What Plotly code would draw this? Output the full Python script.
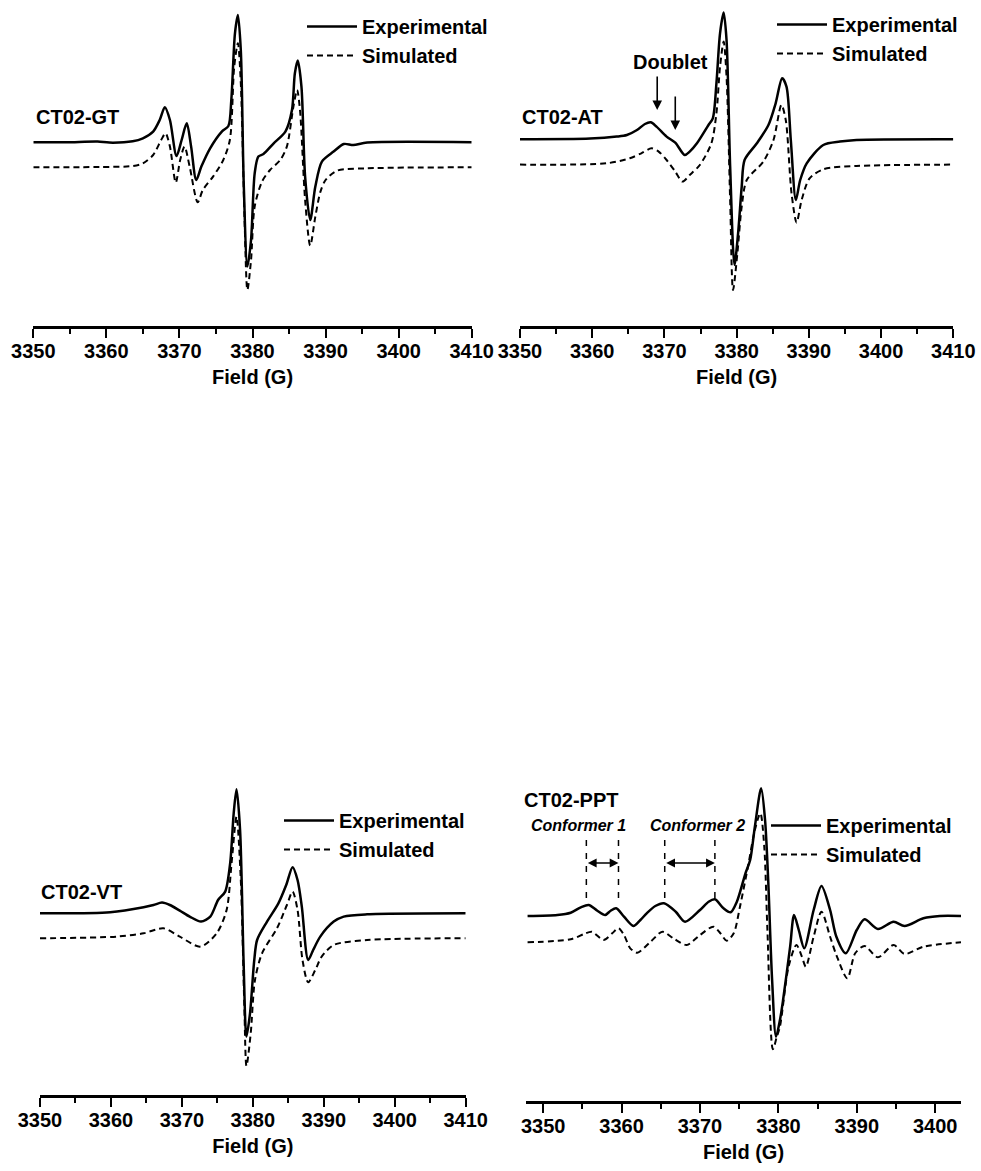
import plotly.graph_objects as go

# ---------------- data (field in G, signal in arbitrary units) ----------------
gt_exp_x = [3350.0, 3354.5, 3358.8, 3360.4, 3363.6, 3365.0, 3366.4, 3367.3, 3368.0, 3368.7, 3369.6, 3370.3,
            3371.0, 3371.6, 3372.3, 3373.0, 3374.2, 3375.8, 3376.7, 3377.1, 3377.6, 3378.0, 3378.4, 3378.8,
            3379.3, 3379.8, 3380.3, 3380.8, 3381.5, 3382.9, 3384.5, 3385.4, 3385.8, 3386.2, 3386.7, 3387.2,
            3387.9, 3388.6, 3389.5, 3391.1, 3392.5, 3393.8, 3395.7, 3410.0]
gt_exp_y = [0, 0, 0.7, -0.3, 1.0, 4.0, 10.7, 22.3, 35.0, 22.3, -13.7, 2.3,
            19.0, -4.3, -37.7, -24.3, -6.0, 10.7, 16.3, 42.3, 109, 127.3, 92.3, -41,
            -124.3, -97.7, -31, -14.3, -11.7, -1, 10.7, 32.3, 69, 81.7, 55.7, -34.3,
            -77.7, -44.3, -19.3, -9.3, -1.7, -2.7, -0.3, 0]
gt_sim_x = [3350.0, 3359.1, 3363.6, 3365.0, 3366.4, 3367.5, 3368.1, 3368.7, 3369.5, 3370.1, 3370.7, 3371.4,
            3372.5, 3373.2, 3374.6, 3376.0, 3376.9, 3377.5, 3378.0, 3378.4, 3378.9, 3379.3, 3379.8, 3380.3,
            3381.3, 3382.4, 3383.8, 3384.7, 3385.6, 3386.1, 3386.5, 3387.2, 3387.9, 3388.6, 3389.3, 3390.0,
            3391.6, 3395.7, 3410.0]
gt_sim_y = [-25, -24.7, -23.7, -21, -12.7, 2.3, 9, -4.3, -40.3, -17.7, -4.3, -24.3,
            -60, -47.7, -34.3, -17.7, 2.3, 75.7, 99, 59, -74.3, -147.7, -117.7, -64.3,
            -39.3, -27.7, -17.7, -4.3, 35.7, 52.3, 32.3, -57.7, -103.3, -74.3, -49.3, -37.7,
            -28.3, -26, -25]

at_exp_x = [3350.0, 3359.7, 3363.4, 3364.8, 3366.2, 3367.3, 3368.1, 3368.9, 3370.3, 3371.5, 3372.8, 3373.5,
            3374.5, 3376.1, 3376.7, 3377.2, 3377.7, 3378.2, 3378.6, 3379.1, 3379.7, 3380.2, 3380.7, 3381.1,
            3382.8, 3384.4, 3385.4, 3386.3, 3386.9, 3387.5, 3388.2, 3388.8, 3389.7, 3392.0, 3394.3, 3396.6,
            3410.0]
at_exp_y = [0, 0.7, 2.7, 4.3, 9.3, 15.3, 17, 12.7, 2.7, -3.3, -15.7, -12.3,
            -4, 14.3, 21, 56, 106, 126.7, 99.3, -27.3, -125.7, -94, -47.3, -20.7,
            -4, 14.3, 36, 61, 52.7, -0.7, -60.7, -40.7, -24, -5.7, -2.3, -0.7,
            0]
at_sim_x = [3350.0, 3362.0, 3365.2, 3366.8, 3368.2, 3369.2, 3370.3, 3371.5, 3372.5, 3373.5, 3374.9, 3376.5,
            3377.2, 3377.7, 3378.2, 3378.6, 3379.1, 3379.5, 3380.1, 3380.7, 3381.4, 3383.7, 3385.1, 3386.2,
            3386.8, 3387.6, 3388.3, 3389.0, 3390.1, 3392.0, 3396.6, 3410.0]
at_sim_y = [-25.3, -24, -19, -14, -9, -12.3, -20.7, -32.3, -42.3, -35.7, -25.7, -4,
            26, 72.7, 97.7, 62.7, -60.7, -150.7, -114, -67.3, -40.7, -22.3, -0.7, 34.3,
            19.3, -54, -83.3, -60.7, -39, -30, -26.7, -25.3]

vt_exp_x = [3350.0, 3359.9, 3364.6, 3366.0, 3367.2, 3368.3, 3369.7, 3371.1, 3372.7, 3374.0, 3375.1, 3376.1,
            3376.8, 3377.3, 3377.7, 3378.2, 3378.7, 3379.1, 3379.6, 3380.2, 3380.6, 3382.0, 3383.6, 3384.7,
            3385.6, 3386.3, 3386.9, 3387.8, 3388.5, 3389.5, 3391.4, 3392.8, 3396.1, 3410.0]
vt_exp_y = [0, 1, 6, 8.3, 10.7, 8.3, 2.7, -3.3, -8.3, -3.3, 13.3, 21.7,
            50, 100, 124, 83.3, -50, -123.3, -100, -46.7, -26.7, -8.3, 10, 28.3,
            46, 33.3, 6.7, -46.7, -36.7, -23.3, -8.3, -3.3, -1, 0]
vt_sim_x = [3350.0, 3360.8, 3364.6, 3367.4, 3369.7, 3372.6, 3374.9, 3376.3, 3377.0, 3377.7, 3378.3, 3378.8,
            3379.1, 3379.7, 3380.3, 3381.3, 3383.4, 3384.8, 3385.6, 3386.3, 3387.0, 3387.8, 3388.8, 3389.7,
            3391.4, 3396.1, 3410.0]
vt_sim_y = [-25, -23.3, -20, -15, -23.3, -33.3, -20, 3.3, 50, 96.7, 33.3, -93.3,
            -152.7, -120, -66.7, -40, -15, 8.3, 21.7, 3.3, -46.7, -69, -56.7, -43.3,
            -31.7, -26.7, -25]

ppt_exp_x = [3348.0, 3351.8, 3353.5, 3354.8, 3355.8, 3356.9, 3357.9, 3358.6, 3359.3, 3360.3, 3361.5, 3362.4,
             3363.2, 3364.3, 3365.4, 3366.9, 3368.1, 3370.0, 3371.1, 3371.9, 3373.0, 3373.9, 3374.7, 3375.8,
             3376.4, 3377.0, 3377.8, 3378.3, 3378.7, 3379.2, 3379.7, 3380.2, 3380.6, 3381.5, 3382.0, 3382.6,
             3383.3, 3384.5, 3385.5, 3386.6, 3387.4, 3388.6, 3390.0, 3391.0, 3392.7, 3394.7, 3396.1, 3398.5,
             3400.6, 3403.3]
ppt_exp_y = [0, 1, 3.3, 8.7, 11, 5.3, 1, 5.3, 7.7, -0.7, -10, -4,
             2.7, 10, 12.7, 4.3, -5.7, 6, 14.3, 16.7, 7.7, 3.7, 14.3, 42.7,
             56, 89.3, 127.7, 96, 36, -64, -120.7, -104, -84, -30.7, 1, -14,
             -32.3, 6, 30, 6, -20.7, -37.3, -14, -3.3, -13, -5.7, -10, -2.3,
             0, 0]
ppt_sim_x = [3348.0, 3353.5, 3355.2, 3356.2, 3357.7, 3358.8, 3359.6, 3360.3, 3361.1, 3362.0, 3363.7, 3365.2,
             3366.6, 3368.3, 3370.0, 3371.7, 3372.6, 3373.4, 3374.3, 3375.1, 3376.2, 3377.0, 3377.7, 3378.2,
             3378.6, 3379.3, 3379.8, 3380.2, 3381.3, 3382.3, 3383.0, 3383.5, 3384.5, 3385.5, 3386.6, 3387.4,
             3388.8, 3389.8, 3391.0, 3392.7, 3394.7, 3396.1, 3398.5, 3403.3]
ppt_sim_y = [-26.3, -23.3, -18, -15.7, -24, -17.3, -12.3, -19, -32.3, -36.7, -25.7, -15.7,
             -22.3, -29, -19, -10.7, -17.3, -24.7, -17.3, 9.3, 52.7, 86, 102.7, 69.3,
             -14, -133.3, -120.7, -110.7, -50.7, -29, -40.7, -50.7, -20.7, 4.3, -20.7, -39,
             -62.3, -37.3, -30, -41.3, -29, -38, -30.7, -26.3]

panel_labels = ["CT02-GT", "CT02-AT", "CT02-VT", "CT02-PPT"]
series_names = ["Experimental", "Simulated"]
x_tickvals = [3350, 3360, 3370, 3380, 3390, 3400, 3410]
conformer_lines = [3355.5, 3359.6, 3365.5, 3371.9]
doublet_pos = [3369.0, 3371.5]

# ---------------- layout geometry (pixels of a 981x1171 page) ----------------
W, H = 981, 1171
FONT = "Liberation Sans, Arial, sans-serif"


def xdom(a, b):
    return [a / W, b / W]


def ydom(top, bot):
    return [1 - bot / H, 1 - top / H]


# (x0px, x1px, top px, axis px, baseline px, x range)
panels = [
    (33.3, 471.7, 0, 326, 142.3, [3350, 3410]),
    (520.0, 953.3, 0, 326, 139.3, [3350, 3410]),
    (40.0, 465.7, 780, 1095, 913.3, [3350, 3410]),
    (526.0, 961.0, 780, 1101, 916.0, [3347.8, 3403.3]),
]

data = [
    (gt_exp_x, gt_exp_y, gt_sim_x, gt_sim_y),
    (at_exp_x, at_exp_y, at_sim_x, at_sim_y),
    (vt_exp_x, vt_exp_y, vt_sim_x, vt_sim_y),
    (ppt_exp_x, ppt_exp_y, ppt_sim_x, ppt_sim_y),
]

fig = go.Figure()
layout = dict(width=W, height=H, margin=dict(l=0, r=0, t=0, b=0, autoexpand=False),
              paper_bgcolor="white", plot_bgcolor="white",
              font=dict(family=FONT, size=20, color="black", weight="bold"))

legend_pos = [(362, 14), (832, 12), (339, 808), (826, 813)]

for i, (ex, ey, sx, sy) in enumerate(data):
    k = "" if i == 0 else str(i + 1)
    lg = "legend" if i == 0 else f"legend{i + 1}"
    fig.add_trace(go.Scatter(x=ex, y=ey, mode="lines", name=series_names[0],
                             line=dict(color="black", width=2.5, shape="spline", smoothing=0.8),
                             xaxis="x" + k, yaxis="y" + k, legend=lg))
    fig.add_trace(go.Scatter(x=sx, y=sy, mode="lines", name=series_names[1],
                             line=dict(color="black", width=2, dash="6px,4px", shape="spline", smoothing=0.8),
                             xaxis="x" + k, yaxis="y" + k, legend=lg))
    x0, x1, top, axis_px, base, xr = panels[i]
    layout["xaxis" + k] = dict(
        domain=xdom(x0, x1), range=xr, anchor="y" + k,
        showline=True, linecolor="black", linewidth=2.5, mirror=False,
        ticks="outside", ticklen=9, tickwidth=2, tickcolor="black",
        tickvals=x_tickvals, showgrid=False, zeroline=False, ticklabelstandoff=-4,
        minor=dict(dtick=5, tick0=3350, ticks="outside", ticklen=5, tickwidth=2, tickcolor="black", showgrid=False),
        tickfont=dict(family=FONT, size=20, color="black", weight="bold"),
        title=dict(text="Field (G)", font=dict(family=FONT, size=20, color="black", weight="bold"), standoff=10),
    )
    layout["yaxis" + k] = dict(domain=ydom(top, axis_px), range=[base - axis_px, base - top],
                               anchor="x" + k, visible=False, showgrid=False, zeroline=False)
    lx, ly = legend_pos[i]
    layout[lg] = dict(x=(lx - 60) / W, y=1 - (ly - 7) / H, xanchor="left", yanchor="top",
                      bgcolor="rgba(0,0,0,0)", borderwidth=0, itemwidth=50, tracegroupgap=0,
                      font=dict(family=FONT, size=20, color="black", weight="bold"))

fig.update_layout(**layout)

ann = []
label_pos = [(34, 117), (520, 117), (39, 892), (522, 800)]
for (lx, ly), txt in zip(label_pos, panel_labels):
    ann.append(dict(x=lx / W, y=1 - ly / H, xref="paper", yref="paper", text=txt, showarrow=False,
                    xanchor="left", yanchor="middle",
                    font=dict(family=FONT, size=20, color="black", weight="bold")))

# Doublet annotation (panel 2)
ann.append(dict(x=670 / W, y=1 - 62 / H, xref="paper", yref="paper", text="Doublet", showarrow=False,
                xanchor="center", yanchor="middle",
                font=dict(family=FONT, size=20, color="black", weight="bold")))
for gx, tip, tail in [(doublet_pos[0], 29.3, 64.3), (doublet_pos[1], 9.3, 44.3)]:
    ann.append(dict(x=gx, y=tip, xref="x2", yref="y2", ax=gx, ay=tail, axref="x2", ayref="y2",
                    text="", showarrow=True, arrowhead=2, arrowsize=1.2, arrowwidth=1.6, arrowcolor="black"))

# Conformer annotations (panel 4)
for cx, txt in [(578, "Conformer 1"), (697, "Conformer 2")]:
    ann.append(dict(x=cx / W, y=1 - 825 / H, xref="paper", yref="paper", text="<i>" + txt + "</i>",
                    showarrow=False, xanchor="center", yanchor="middle",
                    font=dict(family=FONT, size=16, color="black", weight="bold")))
for a, b in [(conformer_lines[0], conformer_lines[1]), (conformer_lines[2], conformer_lines[3])]:
    ann.append(dict(x=b, y=53, xref="x4", yref="y4", ax=a, ay=53, axref="x4", ayref="y4",
                    text="", showarrow=True, arrowhead=2, arrowside="end+start", arrowsize=1.1,
                    arrowwidth=1.6, arrowcolor="black", standoff=0, startstandoff=0))

shapes = []
for gx in conformer_lines:
    shapes.append(dict(type="line", xref="x4", yref="y4", x0=gx, x1=gx, y0=18, y1=76,
                       line=dict(color="black", width=1.5, dash="6px,7px")))

fig.update_layout(annotations=ann, shapes=shapes)
fig.write_html("out.html", config={"displayModeBar": False},
               post_script="document.body.style.margin='0';document.body.style.overflow='hidden';")
